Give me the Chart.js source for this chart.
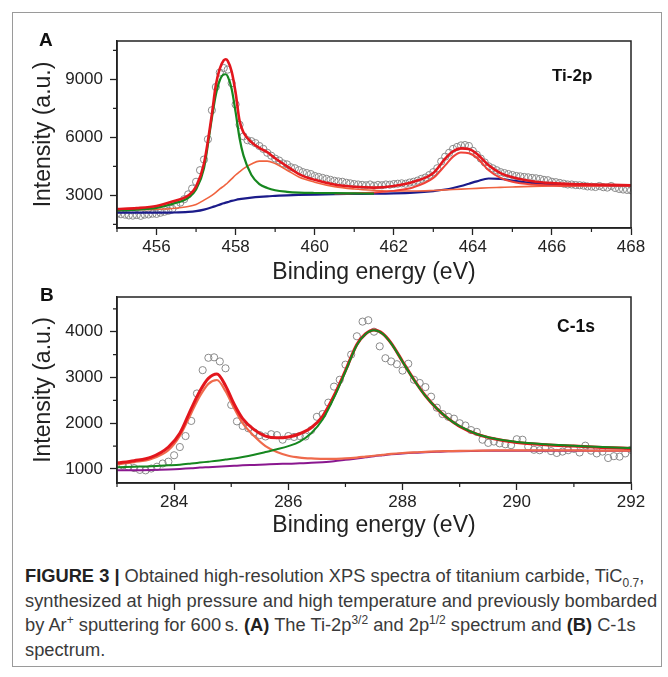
<!DOCTYPE html>
<html>
<head>
<meta charset="utf-8">
<script src="https://cdn.jsdelivr.net/npm/chart.js@4.4.1/dist/chart.umd.min.js"></script>
<style>
  body { margin: 0; background: #fff; }
  #page { position: relative; width: 668px; height: 677px; overflow: hidden; font-family: "Liberation Sans", Arial, sans-serif; }
  #cadre { position: absolute; left: 12px; top: 12px; width: 648px; height: 653px; border: 1px solid #9a9a9a; }
  canvas { position: absolute; left: 0; }
  .lettre { position: absolute; font-weight: bold; color: #111; line-height: 1; white-space: nowrap; }
  #legende { position: absolute; left: 25px; top: 564px; font-size: 18.3px; line-height: 24.7px; color: #3a3a3a; white-space: nowrap; }
  #legende b { color: #222; }
  #legende sub, #legende sup { font-size: 12px; line-height: 0; }
</style>
</head>
<body>
<div id="page">
  <div id="cadre"></div>
  <canvas id="spectreTi" width="668" height="290" style="top:0px"></canvas>
  <canvas id="spectreC" width="668" height="289" style="top:256px"></canvas>
  <div class="lettre" style="left:39px; top:30px; font-size:19px">A</div>
  <div class="lettre" style="left:40px; top:285px; font-size:19px">B</div>
  <div class="lettre" style="left:552px; top:67px; font-size:17px">Ti-2p</div>
  <div class="lettre" style="left:557px; top:318px; font-size:17.5px">C-1s</div>
  <div id="legende">
    <b>FIGURE 3 |</b> Obtained high-resolution XPS spectra of titanium carbide, TiC<sub>0.7</sub>,<br>
    synthesized at high pressure and high temperature and previously bombarded<br>
    by Ar<sup>+</sup> sputtering for 600&thinsp;s. <b>(A)</b> The Ti-2p<sup>3/2</sup> and 2p<sup>1/2</sup> spectrum and <b>(B)</b> C-1s<br>
    spectrum.
  </div>
</div>

<script>
// ---- Ti-2p : mesures (cercles), pas de 0.1 eV a partir de 455.0
const tiDebut = 455.0;
const tiPas = 0.1;
const tiMesures = [
  2050, 2020, 2000, 1960, 1950, 1980, 1940, 2000, 2010, 2050,
  2040, 2100, 2150, 2200, 2300, 2480, 2620, 2800, 3050, 3350,
  3700, 4300, 4850, 5900, 7400, 8600, 9350, 9580, 9500, 8800,
  7700, 6650, 6050, 5850, 5800, 5700, 5550, 5400, 5200, 5050,
  4900, 4800, 4650, 4600, 4450, 4400, 4300, 4200, 4150, 4100,
  4000, 3950, 3900, 3850, 3800, 3750, 3720, 3700, 3650, 3620,
  3580, 3560, 3540, 3520, 3560, 3500, 3540, 3520, 3560, 3550,
  3580, 3600, 3620, 3600, 3660, 3700, 3760, 3850, 3920, 4050,
  4200, 4400, 4750, 5000, 5200, 5400, 5500, 5580, 5600, 5550,
  5300, 5100, 4900, 4700, 4500, 4400, 4300, 4200, 4150, 4100,
  4050, 4000, 3980, 3950, 3930, 3900, 3880, 3850, 3800, 3780,
  3700, 3680, 3640, 3600, 3560, 3560, 3530, 3520, 3500, 3460,
  3450, 3430, 3480, 3420, 3400, 3480, 3380, 3330, 3300, 3280,
  3260
];

// ---- Ti-2p : courbes d'ajustement
const tiEnergies = [455, 455.5, 456, 456.4, 456.8, 457.0, 457.2, 457.4, 457.5, 457.6,
  457.7, 457.75, 457.8, 457.9, 458.0, 458.1, 458.2, 458.4, 458.6, 458.8,
  459.0, 459.3, 459.6, 460, 460.5, 461, 461.5, 462, 462.5, 463,
  463.3, 463.5, 463.7, 463.9, 464.1, 464.4, 464.7, 465, 465.5, 466,
  466.5, 467, 468];
const tiSomme = [2290, 2340, 2450, 2680, 2990, 3450, 4650, 7200, 8700, 9550,
  9980, 10035, 9950, 9400, 8300, 6850, 6250, 5750, 5450, 5230,
  4920, 4500, 4100, 3800, 3560, 3440, 3400, 3480, 3700, 4150,
  4900, 5280, 5430, 5390, 5150, 4550, 4150, 3930, 3730, 3630,
  3580, 3560, 3520];
const tiVert = [2220, 2260, 2350, 2560, 2870, 3300, 4400, 7000, 8200, 8950,
  9250, 9260, 9150, 8500, 7300, 5950, 5050, 4050, 3580, 3380,
  3260, 3180, 3140, 3120, 3110, 3100, 3090, null, null, null,
  null, null, null, null, null, null, null, null, null, null,
  null, null, null];
const tiOrange = [2250, 2260, 2280, 2320, 2420, 2530, 2750, 3000, 3150, 3330,
  3480, 3560, 3650, 3850, 4050, 4220, 4380, 4620, 4770, 4770,
  4640, 4300, 3950, 3680, 3450, 3330, 3260, 3220, 3220, 3250,
  3280, 3300, 3320, 3340, 3360, 3390, 3410, 3430, 3460, 3480,
  3490, 3500, 3510];
const tiRouge2 = [null, null, null, null, null, null, null, null, null, null,
  null, null, null, null, null, null, null, null, null, null,
  null, null, null, null, 3090, 3110, 3150, 3230, 3420, 3900,
  4550, 5000, 5210, 5180, 4950, 4300, 3900, 3700, 3560, 3510,
  3500, 3500, 3500];
const tiBleu = [2100, 2100, 2100, 2110, 2140, 2180, 2260, 2380, 2450, 2520,
  2590, 2620, 2650, 2710, 2760, 2800, 2830, 2880, 2920, 2950,
  2970, 3000, 3020, 3040, 3060, 3070, 3080, 3100, 3140, 3220,
  3300, 3380, 3480, 3600, 3720, 3870, 3850, 3760, 3640, 3570,
  3540, 3520, 3500];

// ---- C-1s : mesures, pas de 0.1 eV a partir de 283.1
const cDebut = 283.1;
const cPas = 0.1;
const cMesures = [
  1080, 1050,
  1020, 980, 970, 1010, 1050, 1120, 1160, 1300, 1480, 1720,
  2050, 2650, 3160, 3430, 3440, 3350, 3200, 2400, 2040, 1940,
  1890, 1800, 1740, 1710, 1760, 1740, 1640, 1720, 1700, 1720,
  1710, 1850, 2140, 2200, 2450, 2800, 2950, 3280, 3500, 3900,
  4220, 4250, 4000, 3680, 3420, 3350, 3290, 3150, 3300, 2950,
  2880, 2790, 2580, 2340, 2200, 2140, 2100, 2000, 1950, 1850,
  1810, 1640, 1570, 1600, 1560, 1540, 1520, 1650, 1640, 1490,
  1420, 1410, 1450, 1390, 1350, 1380, 1410, 1440, 1360, 1510,
  1400, 1340, 1380, 1240, 1280, 1270, 1340, 1420
];

// ---- C-1s : courbes d'ajustement
const cEnergies = [283, 283.3, 283.6, 283.9, 284.1, 284.3, 284.45, 284.6, 284.75, 284.9,
  285.05, 285.2, 285.4, 285.6, 285.8, 286.0, 286.2, 286.4, 286.6, 286.8,
  287.0, 287.2, 287.35, 287.5, 287.65, 287.8, 288.0, 288.2, 288.4, 288.6,
  288.8, 289.0, 289.3, 289.6, 290, 290.5, 291, 291.5, 292];
const cSomme = [1130, 1180, 1260, 1480, 1780, 2320, 2700, 2980, 3075, 2820,
  2420, 2100, 1860, 1720, 1680, 1700, 1770, 1900, 2150, 2600,
  3150, 3720, 3950, 4035, 3960, 3750, 3350, 2950, 2600, 2320,
  2100, 1930, 1760, 1660, 1580, 1530, 1500, 1470, 1450];
const cVert = [1040, 1050, 1060, 1080, 1095, 1120, 1140, 1160, 1180, 1205,
  1230, 1260, 1310, 1370, 1430, 1500, 1600, 1780, 2080, 2560,
  3130, 3710, 3945, 4030, 3955, 3745, 3345, 2945, 2595, 2320,
  2100, 1935, 1765, 1665, 1590, 1540, 1510, 1480, 1460];
const cOrange = [1100, 1150, 1220, 1410, 1720, 2220, 2590, 2860, 2945, 2700,
  2330, 2000, 1720, 1500, 1370, 1290, 1250, 1230, 1220, 1220,
  1230, 1250, 1270, 1290, 1310, 1330, 1350, 1365, 1375, 1385,
  1390, 1395, 1400, 1405, 1405, 1405, 1405, 1400, 1400];
const cViolet = [975, 975, 980, 990, 1000, 1015, 1030, 1040, 1050, 1060,
  1070, 1080, 1090, 1100, 1110, 1115, 1125, 1135, 1150, 1170,
  1200, 1230, 1255, 1280, 1300, 1320, 1340, 1355, 1365, 1375,
  1385, 1390, 1395, 1400, 1400, 1400, 1400, 1400, 1400];

// ---- graduations
const tiGradX = [456, 458, 460, 462, 464, 466, 468];
const tiGradXmin = [455, 457, 459, 461, 463, 465, 467];
const tiGradY = [3000, 6000, 9000];
const tiGradYmin = [1500, 4500, 7500, 10500];
const cGradX = [284, 286, 288, 290, 292];
const cGradXmin = [283, 285, 287, 289, 291];
const cGradY = [1000, 2000, 3000, 4000];
const cGradYmin = [1500, 2500, 3500, 4500];

Chart.defaults.font.family = "'Liberation Sans', Arial, sans-serif";
Chart.defaults.color = '#222';

function points(xs, ys) {
  const pts = [];
  for (let i = 0; i < xs.length; i += 1) {
    if (ys[i] !== null) pts.push({ x: xs[i], y: ys[i] });
  }
  return pts;
}

function pointsPas(debut, pas, ys) {
  const pts = [];
  for (let i = 0; i < ys.length; i += 1) {
    pts.push({ x: +(debut + i * pas).toFixed(2), y: ys[i] });
  }
  return pts;
}

function courbe(data, couleur, epaisseur) {
  return {
    data: data, showLine: true, borderColor: couleur, borderWidth: epaisseur,
    pointRadius: 0, cubicInterpolationMode: 'monotone', fill: false, clip: 0
  };
}

function mesures(data) {
  return {
    data: data, showLine: false, pointRadius: 3.6, pointBorderWidth: 1,
    pointBorderColor: '#8a8a8a', pointBackgroundColor: 'rgba(255,255,255,0)', clip: 0
  };
}

function dessinerSpectre(id, jeux, ax, ay, titreBas) {
  // cadre complet + petites graduations
  const cadre = {
    id: 'cadre',
    afterDraw(chart) {
      const ctx = chart.ctx;
      const a = chart.chartArea;
      ctx.save();
      ctx.strokeStyle = '#222';
      ctx.lineWidth = 1.5;
      ctx.strokeRect(a.left, a.top, a.right - a.left, a.bottom - a.top);
      ctx.lineWidth = 1.2;
      ctx.beginPath();
      for (const v of ax.mineurs) {
        const p = chart.scales.x.getPixelForValue(v);
        ctx.moveTo(p, a.bottom); ctx.lineTo(p, a.bottom + 4);
      }
      for (const v of ay.mineurs) {
        const p = chart.scales.y.getPixelForValue(v);
        ctx.moveTo(a.left, p); ctx.lineTo(a.left - 4, p);
      }
      ctx.stroke();
      ctx.restore();
    }
  };

  const grille = { drawOnChartArea: false, drawTicks: true, tickLength: 7, tickColor: '#222', tickWidth: 1.3 };

  return new Chart(document.getElementById(id), {
    type: 'scatter',
    data: { datasets: jeux },
    options: {
      responsive: false,
      animation: false,
      events: [],
      layout: { padding: { left: 20, top: 41, right: 37, bottom: 0 } },
      plugins: { legend: { display: false }, tooltip: { enabled: false } },
      scales: {
        x: {
          type: 'linear', min: ax.min, max: ax.max,
          afterBuildTicks: (s) => { s.ticks = ax.majeurs.map(v => ({ value: v })); },
          afterFit: (s) => { s.height = 62; },
          ticks: { autoSkip: false, maxRotation: 0, padding: 2, font: { size: 17 }, color: '#222', callback: v => String(v) },
          grid: grille,
          border: { display: true, color: '#222', width: 1.5 },
          title: { display: true, text: 'Binding energy (eV)', font: { size: 23 }, color: '#222', padding: { top: 0, bottom: titreBas } }
        },
        y: {
          type: 'linear', min: ay.min, max: ay.max,
          afterBuildTicks: (s) => { s.ticks = ay.majeurs.map(v => ({ value: v })); },
          afterFit: (s) => { s.width = 97; },
          ticks: { autoSkip: false, padding: 7, font: { size: 17 }, color: '#222', callback: v => String(v) },
          grid: grille,
          border: { display: true, color: '#222', width: 1.5 },
          title: { display: true, text: 'Intensity (a.u.)', font: { size: 23 }, color: '#222', padding: { top: 10, bottom: 0 } }
        }
      }
    },
    plugins: [cadre]
  });
}

// Panneau A : Ti-2p (le premier jeu est dessine au-dessus)
dessinerSpectre('spectreTi', [
  courbe(points(tiEnergies, tiSomme), '#e3161d', 2.6),
  courbe(points(tiEnergies, tiVert), '#16871f', 2.2),
  courbe(points(tiEnergies, tiRouge2), '#f04238', 2),
  courbe(points(tiEnergies, tiOrange), '#f0633f', 1.6),
  courbe(points(tiEnergies, tiBleu), '#1b1b8a', 2.2),
  mesures(pointsPas(tiDebut, tiPas, tiMesures))
], { min: 455, max: 468, majeurs: tiGradX, mineurs: tiGradXmin },
   { min: 1310, max: 10980, majeurs: tiGradY, mineurs: tiGradYmin }, 4);

// Panneau B : C-1s
dessinerSpectre('spectreC', [
  courbe(points(cEnergies, cVert), '#16871f', 2),
  courbe(points(cEnergies, cSomme), '#e3161d', 3),
  courbe(points(cEnergies, cOrange), '#ef6a4c', 2.2),
  courbe(points(cEnergies, cViolet), '#8a178f', 2),
  mesures(pointsPas(cDebut, cPas, cMesures))
], { min: 283, max: 292, majeurs: cGradX, mineurs: cGradXmin },
   { min: 694, max: 4758, majeurs: cGradY, mineurs: cGradYmin }, 6);
</script>
</body>
</html>
